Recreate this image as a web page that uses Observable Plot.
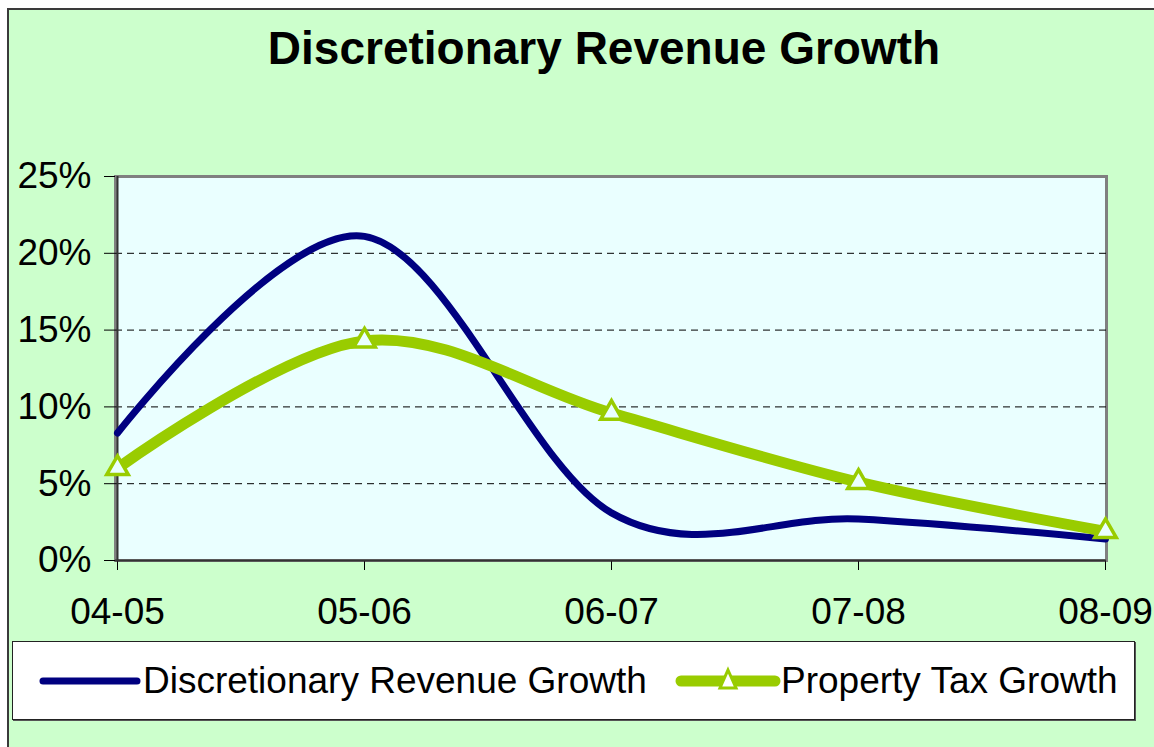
<!DOCTYPE html>
<html>
<head>
<meta charset="utf-8">
<script src="https://cdn.jsdelivr.net/npm/d3@7"></script>
<script src="https://cdn.jsdelivr.net/npm/@observablehq/plot@0.6"></script>
<style>
  html, body { margin: 0; padding: 0; background: #ffffff; width: 1154px; height: 747px; overflow: hidden; }
  #frame { position: absolute; left: 7px; top: 8px; width: 1200px; height: 800px; border: 2px solid #3a3a3a; background: #ccffcc; box-sizing: border-box; }
  #title { position: absolute; left: 27px; top: 21px; width: 1154px; text-align: center; font: bold 46px "Liberation Sans", Arial, sans-serif; color: #000; }
  #chart { position: absolute; left: 0; top: 150px; }
  #legend { position: absolute; left: 12px; top: 641px; width: 1123px; height: 79px; background: #fff; border: 1px solid #222; box-sizing: border-box; box-shadow: 1px 1px 0 #555; font: 37px "Liberation Sans", Arial, sans-serif; }
  .item { position: absolute; top: 0; height: 77px; display: flex; align-items: center; }
</style>
</head>
<body>
<div id="frame"></div>
<div id="title"></div>
<div id="chart"></div>
<div id="legend"></div>
<script>
const titleText = "Discretionary Revenue Growth";
const years = ["04-05", "05-06", "06-07", "07-08", "08-09"];
const discretionary = [0.083, 0.211, 0.031, 0.027, 0.014];
const propertyTax = [0.060, 0.143, 0.096, 0.051, 0.019];
const seriesNames = ["Discretionary Revenue Growth", "Property Tax Growth"];
const yTicks = [0, 0.05, 0.10, 0.15, 0.20, 0.25];

const blue = "#000080", green = "#99cc00";

document.getElementById("title").textContent = titleText;

const dData = years.map((y, i) => ({year: y, value: discretionary[i]}));
const pData = years.map((y, i) => ({year: y, value: propertyTax[i]}));

const chart = Plot.plot({
  width: 1154,
  height: 480,
  marginLeft: 115,
  marginRight: 48,
  marginTop: 26,
  marginBottom: 70,
  style: {fontSize: "37px", fontFamily: "'Liberation Sans', Arial, sans-serif", color: "#000", background: "transparent", overflow: "visible"},
  x: {type: "point", domain: years, padding: 0, label: null},
  y: {domain: [0, 0.25], label: null},
  marks: [
    Plot.frame({fill: "#eaffff", stroke: "#808080", strokeWidth: 3}),
    Plot.gridY(yTicks.slice(1, 5), {stroke: "#000", strokeOpacity: 1, strokeDasharray: "7,5", strokeWidth: 1}),
    Plot.axisY(yTicks, {tickFormat: d3.format(".0%"), tickSize: 11, tickPadding: 13, stroke: "#000", fontSize: 37, label: null}),
    Plot.axisX(years, {tickSize: 10, tickPadding: 27, stroke: "#000", fontSize: 37, label: null}),
    Plot.ruleX([years[0]], {stroke: "#333", strokeWidth: 2}),
    Plot.ruleY([0], {stroke: "#333", strokeWidth: 2}),
    Plot.line(dData, {x: "year", y: "value", stroke: blue, strokeWidth: 7, curve: "cardinal", tension: 0}),
    Plot.line(pData, {x: "year", y: "value", stroke: green, strokeWidth: 11, curve: "cardinal", tension: 0}),
    Plot.dot(pData, {x: "year", y: "value", symbol: "triangle", r: 8, stroke: green, strokeWidth: 3.5, fill: "#eaffff"})
  ]
});
document.getElementById("chart").appendChild(chart);

// legend
const legend = document.getElementById("legend");
const ns = "http://www.w3.org/2000/svg";
function makeItem(left, name, color, width, marker) {
  const div = document.createElement("div");
  div.className = "item";
  div.style.left = left + "px";
  const svg = document.createElementNS(ns, "svg");
  svg.setAttribute("width", 106);
  svg.setAttribute("height", 40);
  const line = document.createElementNS(ns, "line");
  line.setAttribute("x1", 6); line.setAttribute("x2", 100);
  line.setAttribute("y1", 20); line.setAttribute("y2", 20);
  line.setAttribute("stroke", color); line.setAttribute("stroke-width", width);
  line.setAttribute("stroke-linecap", "round");
  svg.appendChild(line);
  if (marker) {
    const p = document.createElementNS(ns, "path");
    p.setAttribute("d", "M53,9 L61,27 L45,27 Z");
    p.setAttribute("fill", "#ffffff"); p.setAttribute("stroke", color); p.setAttribute("stroke-width", 3);
    svg.appendChild(p);
  }
  div.appendChild(svg);
  const span = document.createElement("span");
  span.textContent = name;
  div.appendChild(span);
  legend.appendChild(div);
}
makeItem(24, seriesNames[0], blue, 7, false);
makeItem(662, seriesNames[1], green, 11, true);
</script>
</body>
</html>
